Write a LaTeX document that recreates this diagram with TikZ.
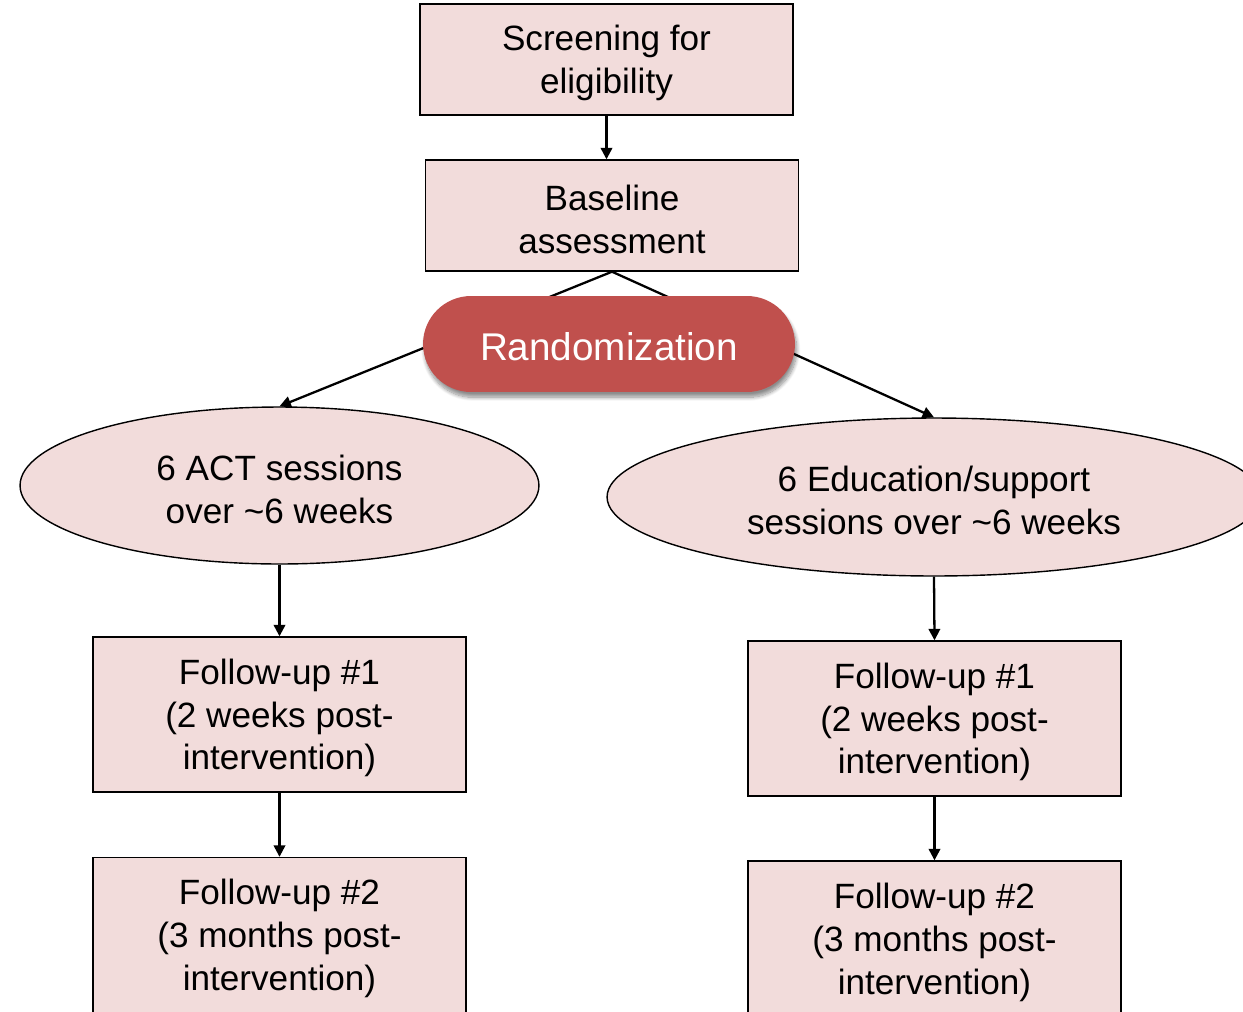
\documentclass[tikz,border=0pt]{standalone}
\usepackage{fontspec}
\setmainfont{Liberation Sans}
\usetikzlibrary{shapes.geometric,shapes.misc,arrows.meta,shadows.blur}
\definecolor{boxpink}{HTML}{F2DCDB}
\definecolor{randred}{HTML}{C0504D}
% taller first line so that the text block sits a little lower in its shape
\newcommand{\firststrut}{\rule{0pt}{18.5pt}}
\tikzset{
  stepbox/.style={draw=black, line width=0.8pt, fill=boxpink, minimum width=7.46cm,
    align=center, inner sep=0pt, font=\fontsize{20}{24.4}\selectfont},
  armellipse/.style={ellipse, draw=black, line width=0.8pt, fill=boxpink, inner sep=0pt,
    align=center, font=\fontsize{20}{24.4}\selectfont},
  flow/.style={line width=1.3pt, -{Triangle[length=6.5pt,width=6.5pt]}},
}
\begin{document}
\begin{tikzpicture}[x=0.02cm,y=-0.02cm]
\useasboundingbox (0,0) rectangle (1243,1011);
\clip (0,0) rectangle (1243,1011);

% screening and baseline
\node[stepbox, minimum height=2.22cm] (screen) at (606.5,59.5) {\firststrut Screening for\\eligibility};
\node[stepbox, minimum height=2.22cm] (base) at (612,215.5) {\firststrut Baseline\\assessment};

% the two study arms
\node[armellipse, minimum width=10.38cm, minimum height=3.14cm] (act) at (279.5,485.5)
  {\firststrut 6 ACT sessions\\over \textasciitilde 6 weeks};
\node[armellipse, minimum width=13.08cm, minimum height=3.16cm] (edu) at (934,497)
  {\firststrut 6 Education/support\\sessions over \textasciitilde 6 weeks};

% follow-up boxes
\node[stepbox, minimum height=3.1cm] (lfu1) at (279.5,714.5)
  {\firststrut Follow-up \#1\\(2 weeks post-\\intervention)};
\node[stepbox, minimum height=3.1cm] (lfu2) at (279.5,935)
  {\firststrut Follow-up \#2\\(3 months post-\\intervention)};
\node[stepbox, minimum height=3.1cm] (rfu1) at (934.5,718.5)
  {\firststrut Follow-up \#1\\(2 weeks post-\\intervention)};
\node[stepbox, minimum height=3.1cm] (rfu2) at (934.5,938.5)
  {\firststrut Follow-up \#2\\(3 months post-\\intervention)};

% connectors
\draw[flow] (screen.south) -- (screen.south |- base.north);
\draw[flow] (base.south) -- (act.north);
\draw[flow] (base.south) -- (edu.north);
\draw[flow] (act.south) -- (lfu1.north);
\draw[flow] (lfu1.south) -- (lfu2.north);
\draw[flow] (edu.south) -- (rfu1.north);
\draw[flow] (rfu1.south) -- (rfu2.north);

% randomization sits over the branching lines
\node[rounded rectangle, fill=randred, draw=none, minimum width=7.44cm, minimum height=1.92cm,
  inner sep=0pt, text=white, font=\fontsize{22}{26}\selectfont,
  blur shadow={shadow xshift=1pt, shadow yshift=-3pt, shadow blur steps=10, shadow opacity=45}]
  (rand) at (609,344) {\firststrut Randomization};
\end{tikzpicture}
\end{document}
